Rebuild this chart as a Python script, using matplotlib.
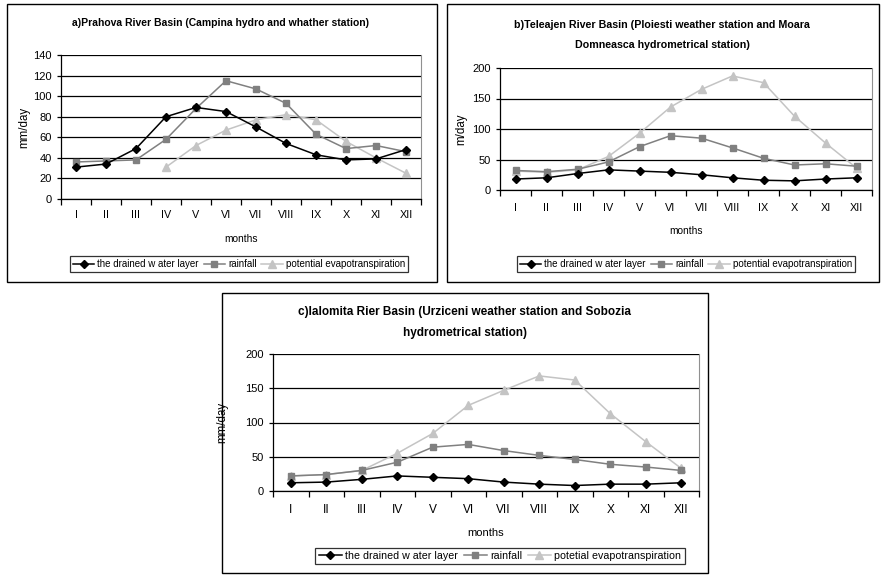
import matplotlib
matplotlib.use("Agg")
import matplotlib.pyplot as plt
from matplotlib.patches import Rectangle
import numpy as np

plt.rcParams['font.family'] = ['Liberation Sans', 'DejaVu Sans']

months = ["I", "II", "III", "IV", "V", "VI", "VII", "VIII", "IX", "X", "XI", "XII"]

# a) Prahova
a_drained = [31, 34, 49, 80, 89, 85, 70, 54, 43, 38, 39, 48]
a_rain = [36, 37, 38, 58, 88, 115, 107, 93, 63, 49, 52, 46]
a_pet = [None, None, None, 31, 52, 67, 77, 82, 77, 56, 40, 25]

# b) Teleajen
b_drained = [18, 20, 27, 33, 31, 29, 25, 20, 16, 15, 18, 20]
b_rain = [32, 30, 34, 46, 71, 89, 85, 69, 52, 41, 43, 39]
b_pet = [31, 29, 33, 55, 93, 136, 165, 187, 176, 121, 77, 36]

# c) Ialomita
c_drained = [12, 13, 17, 22, 20, 18, 13, 10, 8, 10, 10, 12]
c_rain = [22, 24, 30, 42, 64, 68, 59, 52, 46, 39, 35, 30]
c_pet = [22, 24, 30, 55, 84, 125, 147, 168, 162, 113, 72, 33]

W, H = 883, 577
fig = plt.figure(figsize=(W / 100, H / 100), dpi=100)


def fr(x0, y0, x1, y1):
    # pixel box (top-left origin) -> figure fraction rect
    return [x0 / W, 1 - y1 / H, (x1 - x0) / W, (y1 - y0) / H]


def box(x0, y0, x1, y1):
    fig.patches.append(Rectangle((x0 / W, 1 - y1 / H), (x1 - x0) / W, (y1 - y0) / H,
                                 transform=fig.transFigure, fill=False,
                                 edgecolor="black", linewidth=1.0))


def panel(rect, drained, rain, pet, ymax, step, ylabel, ylabel_x, pet_label,
          leg_rect, tick_y, months_y, fs):
    ax = fig.add_axes(fr(*rect))
    x = np.arange(12) + 0.5
    pet = np.array([np.nan if v is None else v for v in pet], dtype=float)
    l3, = ax.plot(x, pet, color="#c4c4c4", marker="^", ms=6, lw=1.1, zorder=3)
    l2, = ax.plot(x, rain, color="#808080", marker="s", ms=5, lw=1.1, zorder=4)
    l1, = ax.plot(x, drained, color="black", marker="D", ms=4.5, lw=1.1, zorder=5)
    ax.set_xlim(0, 12)
    ax.set_ylim(0, ymax)
    ax.set_yticks(np.arange(0, ymax + 1, step))
    ax.yaxis.grid(True, color="black", lw=0.9)
    ax.set_axisbelow(True)
    ax.spines["top"].set_visible(False)
    ax.spines["right"].set_color("#909090")
    ax.spines["left"].set_linewidth(0.9)
    ax.spines["bottom"].set_linewidth(0.9)
    ax.set_xticks(np.arange(13))
    ax.set_xticklabels([])
    ax.tick_params(axis="x", length=4, width=0.9)
    ax.tick_params(axis="y", length=3, width=0.9, labelsize=8)
    x0, y0, x1, y1 = rect
    ty = -(tick_y - y1) / (y1 - y0)
    for xi, m in zip(x, months):
        ax.text(xi, ty, m, transform=ax.get_xaxis_transform(), fontsize=7.8 * fs,
                ha="center", va="center")
    ax.text(0.5, -(months_y - y1) / (y1 - y0), "months", transform=ax.transAxes,
            fontsize=7.3 * fs, ha="center", va="center")
    ax.set_ylabel(ylabel, fontsize=8.3)
    ax.yaxis.set_label_coords((ylabel_x - x0) / (x1 - x0), 0.5)
    lx0, ly0, lx1, ly1 = leg_rect
    leg = fig.legend([l1, l2, l3], ["the drained w ater layer", "rainfall", pet_label],
                     loc="center", bbox_to_anchor=((lx0 + lx1) / 2 / W, 1 - (ly0 + ly1) / 2 / H),
                     ncol=3, fontsize=7.0 * fs, frameon=True, fancybox=False,
                     edgecolor="black", handlelength=2.2, handletextpad=0.3,
                     columnspacing=0.5, borderpad=0.3, borderaxespad=0)
    leg.get_frame().set_linewidth(0.9)
    return ax


# panel boxes
box(7, 4, 437, 282)
box(447, 4, 879, 282)
box(222, 293, 708, 573)

panel((61, 55, 421, 199), a_drained, a_rain, a_pet, 140, 20, "mm/day", 30,
      "potential evapotranspiration", (71, 255, 407, 273), 215, 239, 1.0)
fig.text(220 / W, 1 - 23 / H, "a)Prahova River Basin (Campina hydro and whather station)",
         fontsize=7.5, fontweight="bold", ha="center", va="center")

panel((500, 68, 872, 190), b_drained, b_rain, b_pet, 200, 50, "m/day", 467,
      "potential evapotranspiration", (510, 255, 862, 273), 208, 231, 1.0)
fig.text(662 / W, 1 - 25 / H, "b)Teleajen River Basin (Ploiesti weather station and Moara",
         fontsize=7.7, fontweight="bold", ha="center", va="center")
fig.text(662 / W, 1 - 45 / H, "Domneasca hydrometrical station)",
         fontsize=7.7, fontweight="bold", ha="center", va="center")

panel((273, 354, 699, 491), c_drained, c_rain, c_pet, 200, 50, "mm/day", 228,
      "potetial evapotranspiration", (298, 546, 702, 566), 510, 533, 1.1)
fig.text(465 / W, 1 - 312 / H, "c)Ialomita Rier Basin (Urziceni weather station and Sobozia",
         fontsize=8.5, fontweight="bold", ha="center", va="center")
fig.text(465 / W, 1 - 333 / H, "hydrometrical station)",
         fontsize=8.5, fontweight="bold", ha="center", va="center")

fig.savefig("out.png", dpi=100)
